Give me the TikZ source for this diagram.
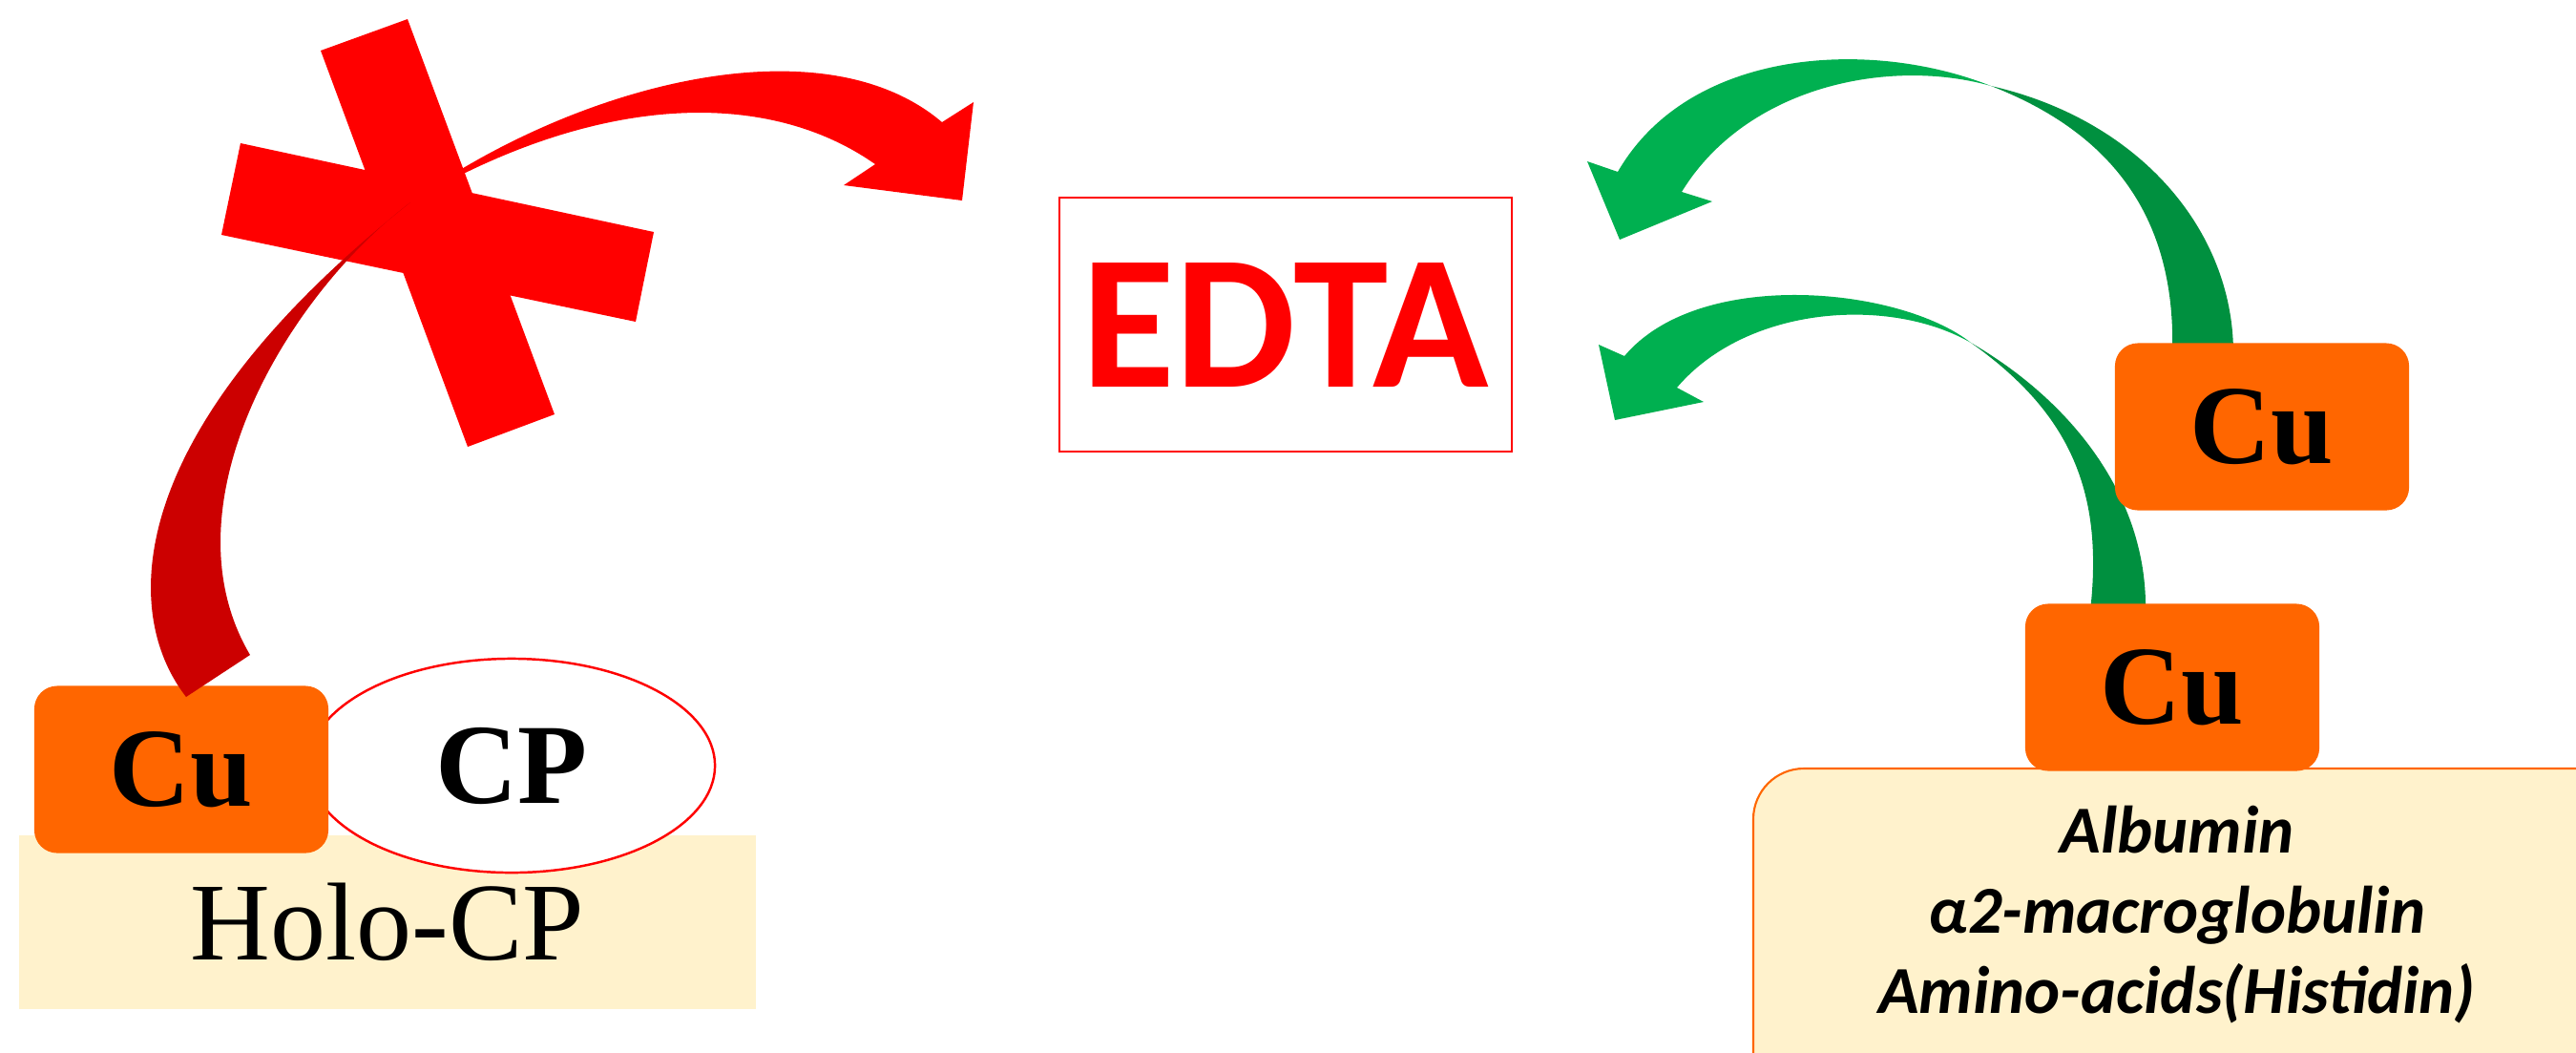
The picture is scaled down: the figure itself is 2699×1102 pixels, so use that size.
\documentclass[tikz,border=0pt]{standalone}
\usepackage{fontspec}
\setmainfont{Liberation Serif}
\newfontfamily\calib{Carlito}
\usetikzlibrary{shapes.geometric}
\definecolor{cuorange}{HTML}{FF6600}
\definecolor{beige}{HTML}{FFF2CC}
\definecolor{darkred}{HTML}{CC0000}
\definecolor{glight}{HTML}{00B050}
\definecolor{gdark}{HTML}{00903F}
\newcommand{\cubox}[2]{\node[metal] (#1) at (#2) {Cu}}
\newcommand{\crossbar}[4]{\fill[red] (#1) -- (#2) -- (#3) -- (#4) -- cycle}
\tikzset{
	metal/.style={fill=cuorange, rounded corners=0.24cm, minimum width=3.08cm, minimum height=1.75cm, inner sep=0pt, font=\bfseries\fontsize{33.5}{36}\selectfont},
	big/.style={font=\fontsize{33}{36}\selectfont}
}

\begin{document}
\begin{tikzpicture}[x=0.01cm, y=-0.01cm]
	\useasboundingbox (0,0) rectangle (2699,1102);
%The holo-ceruloplasmin
	\node[fill=beige, minimum width=7.72cm, minimum height=1.81cm, inner sep=0pt, big] (holo) at (406,966) {Holo-CP};
	\node[ellipse, draw=red, line width=0.7pt, fill=white, minimum width=4.26cm, minimum height=2.24cm, inner sep=0pt, font=\bfseries\fontsize{34}{36}\selectfont] (cp) at (536,802) {CP};
	\cubox{cuL}{190,806};
%The cross
	\crossbar{336,53}{427,20}{581,434}{490,468};
	\crossbar{252,150}{685,243}{666,337}{232,246};
%The blocked arrow
	\fill[darkred] (195,730) .. controls (125,640) and (130,450) .. (430,212)
		.. controls (300,310) and (170,530) .. (262,686) -- cycle;
	\fill[red] (430,212) .. controls (600,90) and (860,20) .. (987,128)
		-- (1020,107) -- (1008,210) -- (884,194) -- (917,172)
		.. controls (800,90) and (620,100) .. (430,212) -- cycle;
%The chelator
	\node[draw=red, line width=0.6pt, minimum width=4.74cm, minimum height=2.65cm, text=red, font=\calib\bfseries\fontsize{57}{60}\selectfont] (edta) at (1347,340) {EDTA};
%The free copper
	\fill[gdark] (2086,90) .. controls (2240,125) and (2340,240) .. (2340,370)
		-- (2276,370) .. controls (2280,230) and (2215,140) .. (2086,90) -- cycle;
	\fill[glight] (2086,90) .. controls (1960,40) and (1770,50) .. (1695,180)
		-- (1663,169) -- (1697,251) -- (1794,211) -- (1762,201)
		.. controls (1830,90) and (1980,60) .. (2086,90) -- cycle;
	\fill[gdark] (2065,359) .. controls (2170,420) and (2250,520) .. (2248,640)
		-- (2190,640) .. controls (2205,510) and (2165,430) .. (2065,359) -- cycle;
	\fill[glight] (2065,359) .. controls (1990,300) and (1780,280) .. (1702,373)
		-- (1675,361) -- (1692,440) -- (1785,421) -- (1757,406)
		.. controls (1830,320) and (1980,310) .. (2065,359) -- cycle;
%The carriers
	\draw[cuorange, fill=beige, line width=0.6pt, rounded corners=0.53cm] (1837,805) rectangle (2760,1160);
	\node[align=center, font=\calib\bfseries\itshape\fontsize{20}{24}\selectfont] (carriers) at (2281,958) {Albumin\\α2-macroglobulin\\Amino-acids(Histidin)};
	\cubox{cuB}{2276,720};
	\cubox{cuT}{2370,447};
\end{tikzpicture}
\end{document}
